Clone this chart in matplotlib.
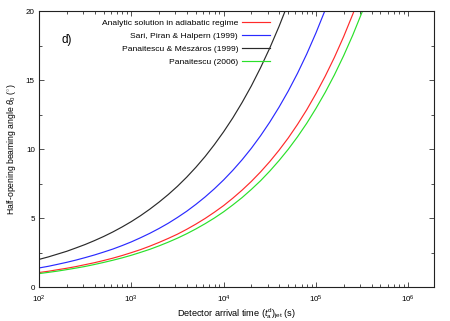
import matplotlib
matplotlib.use("Agg")
import matplotlib.pyplot as plt
from matplotlib.ticker import LogLocator, MultipleLocator, NullFormatter

plt.rcParams['font.family'] = ['Liberation Sans', 'DejaVu Sans']
plt.rcParams['mathtext.fontset'] = 'custom'
plt.rcParams['mathtext.rm'] = 'Liberation Sans'
plt.rcParams['mathtext.it'] = 'Liberation Sans:italic'

# detector arrival time (s), read every tenth of a decade
t = [100, 126, 158, 200, 251, 316, 398, 501, 631, 794,
     1000, 1259, 1585, 1995, 2512, 3162, 3981, 5012, 6310, 7943,
     10000, 12589, 15849, 19953, 25119, 31623, 39811, 50119, 63096, 79433,
     100000, 125893, 158489, 199526, 251189, 316228, 398107]

# half-opening angle (deg) for each model
theta_adiabatic = [1.05, 1.14, 1.25, 1.36, 1.48, 1.62, 1.76, 1.92, 2.09, 2.28,
                   2.49, 2.71, 2.96, 3.23, 3.52, 3.83, 4.18, 4.56, 4.97, 5.42,
                   5.90, 6.44, 7.02, 7.65, 8.34, 9.09, 9.91, 10.80, 11.78, 12.84,
                   14.01, 15.27, 16.64, 18.14, 19.78, 21.57]
theta_spg = [1.38, 1.50, 1.64, 1.79, 1.95, 2.13, 2.32, 2.53, 2.75, 3.00,
             3.27, 3.57, 3.89, 4.24, 4.62, 5.04, 5.49, 5.99, 6.53, 7.12,
             7.76, 8.46, 9.22, 10.05, 10.96, 11.95, 13.03, 14.20, 15.48, 16.88,
             18.41, 20.07, 21.87]
theta_pm = [2.00, 2.18, 2.38, 2.59, 2.83, 3.08, 3.36, 3.66, 3.99, 4.35,
            4.74, 5.17, 5.64, 6.15, 6.70, 7.30, 7.96, 8.68, 9.46, 10.32,
            11.25, 12.26, 13.37, 14.57, 15.89, 17.32, 18.88, 20.58]
theta_p06 = [0.97, 1.06, 1.15, 1.26, 1.37, 1.49, 1.63, 1.78, 1.94, 2.11,
             2.30, 2.51, 2.73, 2.98, 3.25, 3.54, 3.86, 4.21, 4.59, 5.00,
             5.45, 5.95, 6.48, 7.07, 7.70, 8.40, 9.16, 9.98, 10.88, 11.86,
             12.94, 14.10, 15.37, 16.76, 18.27, 19.92, 21.72]

labels = ['Analytic solution in adiabatic regime', 'Sari, Piran & Halpern (1999)',
          'Panaitescu & Mészáros (1999)', 'Panaitescu (2006)']

fig = plt.figure(figsize=(4.5, 3.21), dpi=100)
ax = fig.add_axes([0.0867, 0.1059, 0.8777, 0.8598])

ax.plot(t[:len(theta_adiabatic)], theta_adiabatic, color='#ff2a2a', lw=0.85, label=labels[0])
ax.plot(t[:len(theta_spg)], theta_spg, color='#2a2aff', lw=0.85, label=labels[1])
ax.plot(t[:len(theta_pm)], theta_pm, color='#2a2a2a', lw=0.85, label=labels[2])
ax.plot(t[:len(theta_p06)], theta_p06, color='#2ae02a', lw=0.85, label=labels[3])

ax.set_xscale('log')
ax.set_xlim(1e2, 1.9e6)
ax.set_ylim(0, 20)
ax.yaxis.set_major_locator(MultipleLocator(5))
ax.yaxis.set_minor_locator(MultipleLocator(2.5))
ax.xaxis.set_major_locator(LogLocator(base=10, numticks=10))
ax.xaxis.set_minor_locator(LogLocator(base=10, subs=range(2, 10), numticks=20))
ax.xaxis.set_minor_formatter(NullFormatter())

ax.tick_params(which='both', direction='in', top=True, right=True,
               labelsize=5.8, pad=3, color='#333333')
ax.tick_params(axis='x', which='major', pad=5)
ax.tick_params(which='major', length=3.5, width=0.6)
ax.tick_params(which='minor', length=2, width=0.6)
for s in ax.spines.values():
    s.set_linewidth(0.8)
    s.set_color('#222222')

ax.set_xlabel(r'Detector arrival time $(t^{\rm d}_{\rm a})_{\rm jet}$ (s)', fontsize=6.6, labelpad=1)
ax.set_ylabel(r'Half-opening beaming angle $\theta_0$ ($^{\circ}$)', fontsize=6.2, labelpad=6)

ax.text(0.056, 0.895, 'd)', transform=ax.transAxes, fontsize=8.5, va='center')

leg = ax.legend(loc='upper right', bbox_to_anchor=(0.603, 1.0), markerfirst=False,
                frameon=False, fontsize=6.1, handlelength=3.2, labelspacing=0.6,
                handletextpad=0.5, borderaxespad=0.5)

fig.savefig('out.png', dpi=100)
